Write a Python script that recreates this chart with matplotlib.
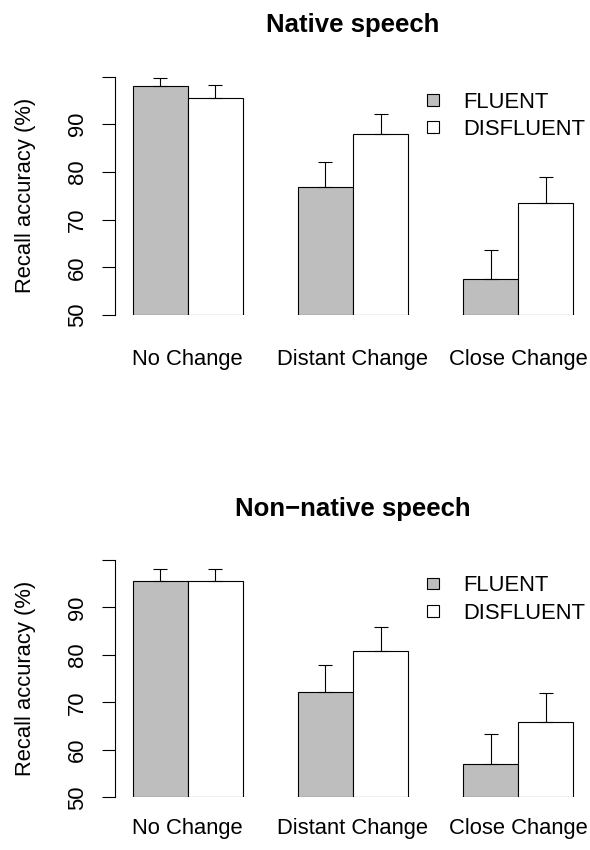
import numpy as np
import matplotlib.pyplot as plt
from matplotlib.patches import Patch

plt.rcParams['font.family'] = ['Liberation Sans', 'DejaVu Sans']

conditions = ["No Change", "Distant Change", "Close Change"]
groups = ["FLUENT", "DISFLUENT"]
colors = ["#BEBEBE", "white"]

# recall accuracy (%) and upper error
native_fluent = [98.0, 76.8, 57.5]
native_fluent_err = [1.7, 5.3, 6.2]
native_disfluent = [95.5, 88.0, 73.4]
native_disfluent_err = [2.7, 4.2, 5.6]

nonnative_fluent = [95.5, 72.1, 57.0]
nonnative_fluent_err = [2.6, 5.8, 6.3]
nonnative_disfluent = [95.5, 80.9, 65.8]
nonnative_disfluent_err = [2.6, 5.0, 6.1]

panels = [
    ("Native speech", [native_fluent, native_disfluent], [native_fluent_err, native_disfluent_err]),
    ("Non\u2212native speech", [nonnative_fluent, nonnative_disfluent], [nonnative_fluent_err, nonnative_disfluent_err]),
]

fs = 15.8
fig = plt.figure(figsize=(5.9, 8.5), dpi=100)
axes_pos = [[0.1949, 0.6294, 0.8068, 0.2806],
            [0.1949, 0.0619, 0.8068, 0.2793]]
xpads = [24.6, 14.5]

for (title, vals, errs), pos, xpad in zip(panels, axes_pos, xpads):
    ax = fig.add_axes(pos)
    n = len(conditions)
    # R barplot beside=TRUE layout: width 1, space between groups 1
    for j in range(len(groups)):
        left = np.arange(n) * 3 + 1 + j
        ax.bar(left, np.array(vals[j]) - 50, bottom=50, width=1, align='edge',
               color=colors[j], edgecolor='black', linewidth=0.8, zorder=2)
        ax.errorbar(left + 0.5, vals[j], yerr=[np.zeros(n), errs[j]], fmt='none',
                    ecolor='black', elinewidth=0.8, capsize=5, capthick=0.8, zorder=3)
    ax.set_xlim(0.68, 9.32)
    ax.set_ylim(50, 100)
    ax.set_yticks([50, 60, 70, 80, 90, 100])
    ax.set_yticklabels(["50", "60", "70", "80", "90", ""])
    ax.set_xticks(np.arange(n) * 3 + 2)
    ax.set_xticklabels(conditions)
    for s in ["top", "right", "bottom"]:
        ax.spines[s].set_visible(False)
    ax.spines["left"].set_linewidth(0.8)
    ax.tick_params(axis='y', length=9.4, width=0.8, pad=9.9, labelsize=fs, labelrotation=90)
    for lab in ax.get_yticklabels():
        lab.set_va('center')
    ax.tick_params(axis='x', length=0, pad=xpad, labelsize=fs)
    ax.set_ylabel("Recall accuracy (%)", fontsize=fs)
    ax.yaxis.set_label_coords(-0.166, 0.5)
    ax.set_title(title, fontsize=18.5, fontweight='bold', pad=32)
    handles = [Patch(facecolor=c, edgecolor='black', linewidth=0.8) for c in colors]
    ax.legend(handles, groups, loc='upper left', bbox_to_anchor=(0.6555, 0.935),
              bbox_transform=ax.transAxes, frameon=False, fontsize=fs,
              handlelength=0.55, handleheight=0.45, handletextpad=1.1,
              labelspacing=0.28, borderpad=0, borderaxespad=0)

fig.savefig("out.png", dpi=100)
